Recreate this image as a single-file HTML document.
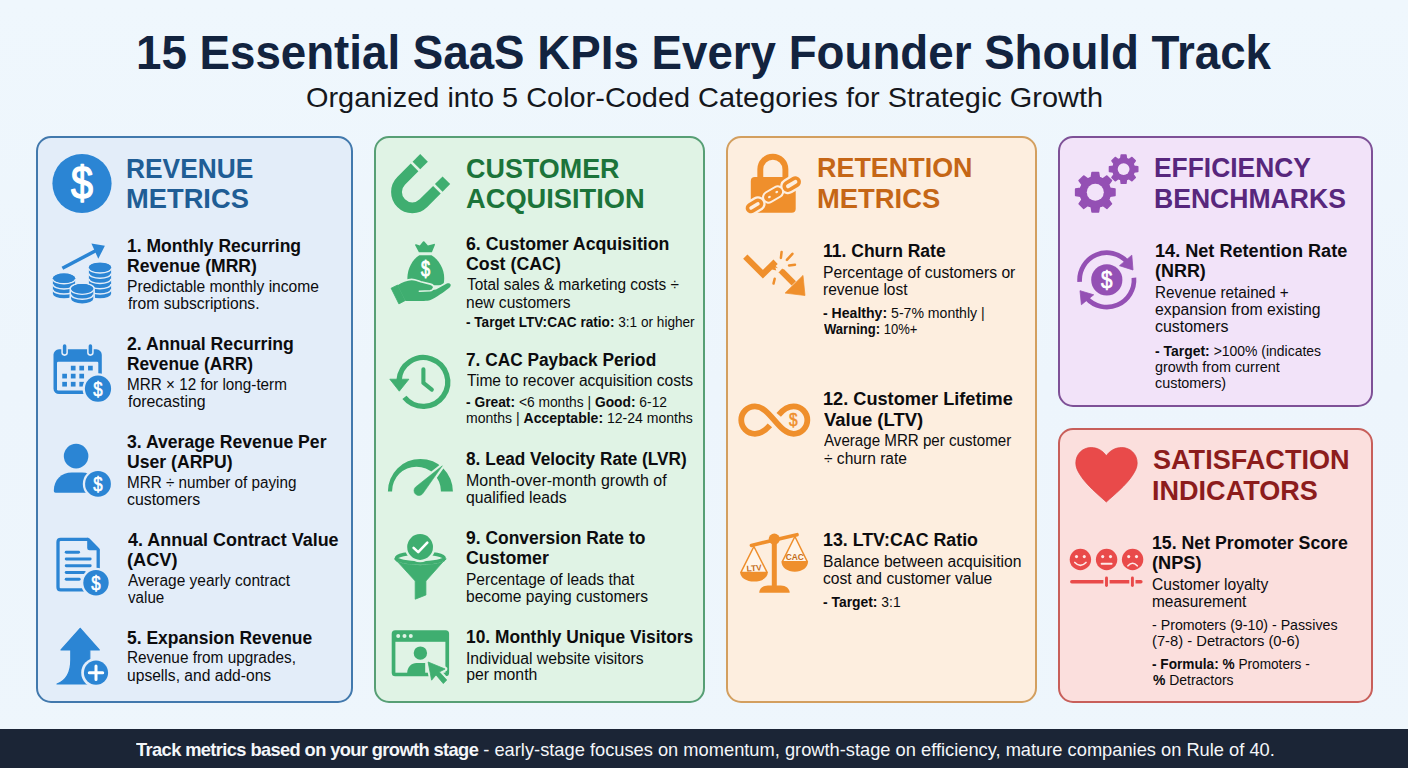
<!DOCTYPE html>
<html lang="en"><head><meta charset="utf-8"><title>15 Essential SaaS KPIs Every Founder Should Track</title>
<style>
html,body{margin:0;padding:0}
body{width:1408px;height:768px;overflow:hidden;background:#eef6fc;font-family:'Liberation Sans',sans-serif}
#page{position:relative;width:1408px;height:768px;overflow:hidden;background:linear-gradient(180deg,#eff7fd 0%,#edf5fc 50%,#eef6fc 100%)}
.t{position:absolute;white-space:nowrap;color:#0c0c0e;display:block;transform-origin:0 0}
.t b{font-weight:700}
.card{position:absolute;box-sizing:border-box;border:2px solid;border-radius:15px}
.c-blue{left:36px;top:136px;width:317px;height:566.5px;background:#e3edf9;border-color:#4279ad}
.c-green{left:374px;top:136px;width:331px;height:566.5px;background:#e0f3e5;border-color:#579f75}
.c-orange{left:725.5px;top:136px;width:311.5px;height:566.5px;background:#fdeedf;border-color:#d39f5f}
.c-purple{left:1058px;top:136px;width:315px;height:271px;background:#f2e3f9;border-color:#7e5197}
.c-red{left:1058px;top:427.5px;width:315px;height:275px;background:#fbdfdd;border-color:#c85f5a}
#foot{position:absolute;left:0;top:729px;width:1408px;height:39px;background:#1b2536}
.ic{position:absolute;overflow:visible}
.title{font-size:48.5px;font-weight:700;line-height:56px;height:56px}
.sub{font-size:28.0px;font-weight:400;line-height:32px;height:32px}
.head{font-size:27.2px;font-weight:700;line-height:32px;height:32px}
.it{font-size:18.9px;font-weight:700;line-height:22px;height:22px}
.desc{font-size:15.8px;font-weight:400;line-height:18px;height:18px}
.note{font-size:14.3px;font-weight:400;line-height:16px;height:16px}
.foot{font-size:18.6px;font-weight:400;line-height:22px;height:22px}
</style></head>
<body>
<div id="page">
<div class="card c-blue"></div>
<div class="card c-green"></div>
<div class="card c-orange"></div>
<div class="card c-purple"></div>
<div class="card c-red"></div>
<div id="foot"></div>

<svg class="ic" style="left:0;top:0" width="1408" height="768" viewBox="0 0 1408 768" font-family="'Liberation Sans', sans-serif">
<g id="ic-blue">
<circle cx="82" cy="183.5" r="29.6" fill="#2b85d4"/><text transform="translate(82,198.71) scale(0.86,1)" x="0" y="0" font-size="46" font-weight="400" text-anchor="middle" fill="#fff" stroke="#fff" stroke-width="1.38" stroke-linejoin="round">$</text>
<path d="M52.9,278.2 L52.9,293.65 A11.1 4.7 0 0 0 75.1,293.65 L75.1,278.2 A11.1 4.7 0 0 0 52.9,278.2 Z" fill="#2b85d4"/><path d="M52.9,279.09999999999997 A11.1 4.7 0 0 0 75.1,279.09999999999997" fill="none" stroke="#e3edf9" stroke-width="1.5"/><path d="M52.9,284.24999999999994 A11.1 4.7 0 0 0 75.1,284.24999999999994" fill="none" stroke="#e3edf9" stroke-width="1.5"/><path d="M52.9,289.4 A11.1 4.7 0 0 0 75.1,289.4" fill="none" stroke="#e3edf9" stroke-width="1.5"/><ellipse cx="64" cy="278.2" rx="11.1" ry="4.7" fill="#2b85d4"/>
<path d="M88.9,267.4 L88.9,293.65 A11.1 4.7 0 0 0 111.1,293.65 L111.1,267.4 A11.1 4.7 0 0 0 88.9,267.4 Z" fill="#2b85d4"/><path d="M88.9,268.29999999999995 A11.1 4.7 0 0 0 111.1,268.29999999999995" fill="none" stroke="#e3edf9" stroke-width="1.5"/><path d="M88.9,273.54999999999995 A11.1 4.7 0 0 0 111.1,273.54999999999995" fill="none" stroke="#e3edf9" stroke-width="1.5"/><path d="M88.9,278.79999999999995 A11.1 4.7 0 0 0 111.1,278.79999999999995" fill="none" stroke="#e3edf9" stroke-width="1.5"/><path d="M88.9,284.04999999999995 A11.1 4.7 0 0 0 111.1,284.04999999999995" fill="none" stroke="#e3edf9" stroke-width="1.5"/><path d="M88.9,289.29999999999995 A11.1 4.7 0 0 0 111.1,289.29999999999995" fill="none" stroke="#e3edf9" stroke-width="1.5"/><ellipse cx="100" cy="267.4" rx="11.1" ry="4.7" fill="#2b85d4"/>
<path d="M71.10000000000001,288.7 L71.10000000000001,298.7 A11.1 4.7 0 0 0 93.3,298.7 L93.3,288.7 A11.1 4.7 0 0 0 71.10000000000001,288.7 Z" fill="#e3edf9" stroke="#e3edf9" stroke-width="3.2"/><path d="M71.10000000000001,288.7 L71.10000000000001,298.7 A11.1 4.7 0 0 0 93.3,298.7 L93.3,288.7 A11.1 4.7 0 0 0 71.10000000000001,288.7 Z" fill="#2b85d4"/><path d="M71.10000000000001,289.59999999999997 A11.1 4.7 0 0 0 93.3,289.59999999999997" fill="none" stroke="#e3edf9" stroke-width="1.5"/><path d="M71.10000000000001,294.59999999999997 A11.1 4.7 0 0 0 93.3,294.59999999999997" fill="none" stroke="#e3edf9" stroke-width="1.5"/><ellipse cx="82.2" cy="288.7" rx="11.1" ry="4.7" fill="#2b85d4"/>
<path d="M62.4,268.3 L97,250" stroke="#2b85d4" stroke-width="3.5" fill="none"/>
<path d="M91.4,243.6 L104.9,245.7 L98.3,258.8 Z" fill="#2b85d4"/>
<rect x="53.5" y="349.3" width="48.3" height="44.7" rx="5.5" fill="#2b85d4"/>
<rect x="57" y="361.8" width="41.3" height="28.7" rx="1.2" fill="#e3edf9"/>
<path d="M64.6,346 L64.6,352.6" stroke="#e3edf9" stroke-width="6.6" stroke-linecap="round"/>
<path d="M64.6,346 L64.6,352.6" stroke="#2b85d4" stroke-width="3.5" stroke-linecap="round"/>
<path d="M90.4,346 L90.4,352.6" stroke="#e3edf9" stroke-width="6.6" stroke-linecap="round"/>
<path d="M90.4,346 L90.4,352.6" stroke="#2b85d4" stroke-width="3.5" stroke-linecap="round"/>
<rect x="70.85" y="365.75" width="4.7" height="4.7" fill="#2b85d4"/>
<rect x="79.35" y="365.75" width="4.7" height="4.7" fill="#2b85d4"/>
<rect x="88.05" y="365.75" width="4.7" height="4.7" fill="#2b85d4"/>
<rect x="62.25" y="373.75" width="4.7" height="4.7" fill="#2b85d4"/>
<rect x="70.85" y="373.75" width="4.7" height="4.7" fill="#2b85d4"/>
<rect x="79.35" y="373.75" width="4.7" height="4.7" fill="#2b85d4"/>
<rect x="62.25" y="381.85" width="4.7" height="4.7" fill="#2b85d4"/>
<rect x="70.85" y="381.85" width="4.7" height="4.7" fill="#2b85d4"/>
<rect x="79.35" y="381.85" width="4.7" height="4.7" fill="#2b85d4"/>
<circle cx="98" cy="388.7" r="15.399999999999999" fill="#e3edf9"/><circle cx="98" cy="388.7" r="13.1" fill="#2b85d4"/><text transform="translate(98,395.74) scale(0.8,1)" x="0" y="0" font-size="21" font-weight="400" text-anchor="middle" fill="#fff" stroke="#fff" stroke-width="0.63" stroke-linejoin="round">$</text>
<circle cx="76.1" cy="456.1" r="12.3" fill="#2b85d4"/>
<path d="M53.8,490.9 C53.8,479.6 61.6,472.5 71.8,472.5 L82,472.5 C92,472.5 98.5,479.5 98.5,490.7 L98.5,492.7 L55.6,492.7 Q53.8,492.7 53.8,490.9 Z" fill="#2b85d4"/>
<circle cx="98" cy="483.9" r="15.2" fill="#e3edf9"/><circle cx="98" cy="483.9" r="12.9" fill="#2b85d4"/><text transform="translate(98,490.94) scale(0.8,1)" x="0" y="0" font-size="21" font-weight="400" text-anchor="middle" fill="#fff" stroke="#fff" stroke-width="0.63" stroke-linejoin="round">$</text>
<path d="M88.3,539.3 L60.6,539.3 Q58,539.3 58,541.9 L58,587.3 Q58,589.9 60.6,589.9 L86,589.9 M98.2,572 L98.2,549.4" stroke="#2b85d4" stroke-width="3.3" fill="none"/>
<path d="M87.2,537.65 Q88.6,537.65 89.6,538.6 L98.9,547.9 Q99.85,548.9 99.85,550.3 L89.5,550.3 Q87.2,550.3 87.2,548 Z" fill="#2b85d4"/>
<path d="M66.2,552.2 L78.6,552.2" stroke="#2b85d4" stroke-width="2.9" stroke-linecap="round"/>
<path d="M66.2,559 L90.2,559" stroke="#2b85d4" stroke-width="2.9" stroke-linecap="round"/>
<path d="M66.2,565.7 L90.2,565.7" stroke="#2b85d4" stroke-width="2.9" stroke-linecap="round"/>
<path d="M66.2,572.5 L84.4,572.5" stroke="#2b85d4" stroke-width="2.9" stroke-linecap="round"/>
<path d="M66.2,579.2 L79.2,579.2" stroke="#2b85d4" stroke-width="2.9" stroke-linecap="round"/>
<circle cx="96" cy="582.8" r="15.0" fill="#e3edf9"/><circle cx="96" cy="582.8" r="12.7" fill="#2b85d4"/><text transform="translate(96,589.83) scale(0.8,1)" x="0" y="0" font-size="21" font-weight="400" text-anchor="middle" fill="#fff" stroke="#fff" stroke-width="0.63" stroke-linejoin="round">$</text>
<path d="M80.2,628.3 L99.3,650 L89.8,650 L89.8,684 L57,684 C66.5,680.5 70.8,672 70.8,660 L70.8,650 L61,650 Z" fill="#2b85d4" stroke="#2b85d4" stroke-width="1.2" stroke-linejoin="round"/>
<circle cx="96" cy="672.7" r="14.8" fill="#e3edf9"/><circle cx="96" cy="672.7" r="12.1" fill="#2b85d4"/>
<path d="M89.3,672.7 L102.7,672.7 M96,666 L96,679.4" stroke="#fff" stroke-width="3" stroke-linecap="round"/>
</g>
<g id="ic-green">
<g transform="translate(412.3,192.0) rotate(45)">
<path d="M-15.8,-18.999999999999996 L-15.8,0 A15.8 15.8 0 0 0 15.8,0 L15.8,-18.999999999999996" fill="none" stroke="#3fae70" stroke-width="10.8"/>
<rect x="-21.200000000000003" y="-32.4" width="10.8" height="10.8" fill="#3fae70"/>
<rect x="10.4" y="-32.4" width="10.8" height="10.8" fill="#3fae70"/>
</g>
<path d="M418.9,252.2 L415.0,244.9 Q415.1,243.9 416.2,244.2 L419.8,245.6 L423.0,241.5 Q423.7,240.9 424.4,241.5 L427.9,245.5 L433.8,243.9 Q435.3,243.7 434.9,245.0 L431.9,252.2 Z" fill="#3fae70"/>
<path d="M419.3,255.2 L431.5,255.2 C438.5,259.5 444.2,268.5 444.2,278 C444.2,281.5 443.8,283.5 443.2,285.2 L407.9,285.2 C407.5,283 407.4,281 407.4,278 C407.4,268.5 412.5,259.5 419.3,255.2 Z" fill="#3fae70"/>
<text transform="translate(425.6,275.90) scale(0.76,1)" x="0" y="0" font-size="21.5" font-weight="400" text-anchor="middle" fill="#fff" stroke="#fff" stroke-width="0.90" stroke-linejoin="round">$</text>
<path d="M397.6,285.3 C402,282.6 407,280.4 411.6,280.3 C415,280.3 417.5,281.6 420.6,282.6 L430.3,284.9 C432.6,285.5 433.4,287.2 432.9,288.6 C432.4,290.1 431,290.6 429.2,290.5 L436,289.5 L446.8,283.6 C448.6,282.7 450.2,283.3 450.6,284.6 C451,285.9 450.3,287 449,288 C444,292 436,297.5 430.5,300 C428.5,300.7 426.5,300.9 424,300.9 L405.6,300.9 Z" fill="#e0f3e5" stroke="#e0f3e5" stroke-width="3.4" stroke-linejoin="round"/>
<path d="M397.6,285.3 C402,282.6 407,280.4 411.6,280.3 C415,280.3 417.5,281.6 420.6,282.6 L430.3,284.9 C432.6,285.5 433.4,287.2 432.9,288.6 C432.4,290.1 431,290.6 429.2,290.5 L436,289.5 L446.8,283.6 C448.6,282.7 450.2,283.3 450.6,284.6 C451,285.9 450.3,287 449,288 C444,292 436,297.5 430.5,300 C428.5,300.7 426.5,300.9 424,300.9 L405.6,300.9 Z" fill="#3fae70"/>
<path d="M391.1,288.2 L397.7,285 L405.4,300.4 L398.9,303.9 Z" fill="#3fae70" stroke="#3fae70" stroke-width="0.8" stroke-linejoin="round"/>
<path d="M419.3,291.2 L430,290.7 C432,290.5 433,289.5 433.2,288.3" fill="none" stroke="#e0f3e5" stroke-width="1.5" stroke-linecap="round"/>
<path d="M404.44,397.36 A24.4 24.4 0 1 0 399.0,380.5" fill="none" stroke="#3fae70" stroke-width="5.3"/>
<path d="M389.8,379.2 L408.9,379.2 L399.3,391.2 Z" fill="#3fae70" stroke="#3fae70" stroke-width="0.8" stroke-linejoin="round"/>
<path d="M423.4,369.2 L423.4,382.9 L431.8,389.6" fill="none" stroke="#3fae70" stroke-width="4.1" stroke-linecap="round" stroke-linejoin="round"/>
<clipPath id="gclip"><rect x="380" y="450" width="90" height="41.4"/></clipPath>
<g clip-path="url(#gclip)"><path fill-rule="evenodd" fill="#3fae70" d="M387.9,491.4 a32.5,32.5 0 1,0 65,0 a32.5,32.5 0 1,0 -65,0 Z M392.1,491.1 a24.4,24.4 0 1,0 48.8,0 a24.4,24.4 0 1,0 -48.8,0 Z"/></g>
<path d="M442.3,465.8 L423.0,493.3 A4.9 4.9 0 1 1 415.6,487.0 Z" fill="#e0f3e5" stroke="#e0f3e5" stroke-width="4.8" stroke-linejoin="round"/>
<path d="M442.3,465.8 L423.0,493.3 A4.9 4.9 0 1 1 415.6,487.0 Z" fill="#3fae70" stroke="#3fae70" stroke-width="0.6" stroke-linejoin="round"/>
<path d="M394.7,558.6 L415.2,581 L415.2,599.2 L425.9,595 L425.9,581 L445.9,558.6 C445.9,562.4 434,565.2 420.3,565.2 C406.6,565.2 394.7,562.4 394.7,558.6 Z" fill="#3fae70" stroke="#3fae70" stroke-width="0.8" stroke-linejoin="round"/>
<ellipse cx="420.3" cy="558.0" rx="23.8" ry="5.0" fill="#e0f3e5" stroke="#3fae70" stroke-width="3.6"/>
<circle cx="420.1" cy="547" r="15.2" fill="#e0f3e5"/>
<path d="M394.9,558.6 C394.9,562.3 406.6,564.5 420.3,564.5 C434,564.5 445.7,562.3 445.7,558.6" fill="none" stroke="#3fae70" stroke-width="0.1"/>
<circle cx="420.1" cy="547" r="12.9" fill="#3fae70"/>
<path d="M413.6,547.9 L418.2,552.1 L427.3,542.6" fill="none" stroke="#fff" stroke-width="2.6" stroke-linecap="round" stroke-linejoin="round"/>
<rect x="391.7" y="630.2" width="57.4" height="46" rx="3.5" fill="#3fae70"/>
<rect x="395.4" y="641.8" width="50" height="30.9" fill="#e0f3e5"/>
<circle cx="398.2" cy="636.1" r="2" fill="#e0f3e5"/>
<circle cx="404.5" cy="636.1" r="2" fill="#e0f3e5"/>
<circle cx="410.8" cy="636.1" r="2" fill="#e0f3e5"/>
<circle cx="420.4" cy="653.1" r="6.7" fill="#3fae70"/>
<path d="M407.2,673 C407.2,667 411.5,663 416.5,663 L425.2,663 L425.2,673 Z" fill="#3fae70"/>
<path d="M428.1,662 L445.1,669 L439.3,671.9 L446.7,680 L443.3,683.6 L436,674.9 L431.6,680.2 Z" fill="#e0f3e5" stroke="#e0f3e5" stroke-width="4.6" stroke-linejoin="round"/>
<path d="M428.1,662 L445.1,669 L439.3,671.9 L446.7,680 L443.3,683.6 L436,674.9 L431.6,680.2 Z" fill="#3fae70" stroke="#3fae70" stroke-width="0.8" stroke-linejoin="round"/>
</g>
<g id="ic-orange">
<path d="M760.3,178 L760.3,169.3 A12.55 12.55 0 0 1 785.4,169.3 L785.4,178" fill="none" stroke="#ef8f2c" stroke-width="5.9"/>
<rect x="750.8" y="176.9" width="44.9" height="35.8" rx="4" fill="#ef8f2c"/>
<rect x="-7.6" y="-3.5" width="15.2" height="7.0" rx="3.5" fill="#fdeedf" stroke="#fdeedf" stroke-width="8.2" transform="translate(754.5,205.9) rotate(-31)"/>
<rect x="-7.75" y="-2.3" width="15.5" height="4.6" rx="2.3" fill="#fdeedf" stroke="#fdeedf" stroke-width="8.2" transform="translate(773.1,194.5) rotate(-31)"/>
<rect x="-8.1" y="-3.8" width="16.2" height="7.6" rx="3.8" fill="#fdeedf" stroke="#fdeedf" stroke-width="8.2" transform="translate(791.7,184.1) rotate(-31)"/>
<rect x="-9.8" y="-4.5" width="19.6" height="9" rx="4.5" fill="#ef8f2c" transform="translate(773.1,194.5) rotate(-31)"/>
<g transform="translate(773.1,194.5) rotate(-31)"><ellipse cx="-4.4" cy="0.2" rx="1.5" ry="1.1" fill="#fdeedf"/><ellipse cx="4.4" cy="-0.2" rx="1.5" ry="1.1" fill="#fdeedf"/></g>
<rect x="-7.6" y="-3.5" width="15.2" height="7.0" rx="3.5" fill="none" stroke="#ef8f2c" stroke-width="3.6" transform="translate(754.5,205.9) rotate(-31)"/>
<rect x="-8.1" y="-3.8" width="16.2" height="7.6" rx="3.8" fill="none" stroke="#ef8f2c" stroke-width="3.6" transform="translate(791.7,184.1) rotate(-31)"/>
<path d="M745.3,256.7 L762.9,274.1 L775.6,261.7" fill="none" stroke="#ef8f2c" stroke-width="6.1"/>
<path d="M773.6,263.7 L777.9,268.2 L775.3,267.6 L776.3,270.5 L772,269.6 Z" fill="#ef8f2c"/>
<path d="M781.6,271.2 L793.8,283.4" fill="none" stroke="#ef8f2c" stroke-width="6.1"/>
<path d="M778.3,272.7 L782.3,268.6 L785.2,271.5 L781.8,273.2 Z" fill="#ef8f2c"/>
<path d="M803,275.4 L805,295.5 L785.1,293.1 Z" fill="#ef8f2c" stroke="#ef8f2c" stroke-width="0.7" stroke-linejoin="round"/>
<path d="M781.6,251.9 L780.9,257.9" stroke="#ef8f2c" stroke-width="2.5" stroke-linecap="round"/>
<path d="M792.4,253.8 L786.9,259.9" stroke="#ef8f2c" stroke-width="2.5" stroke-linecap="round"/>
<path d="M795,264.7 L789,265.4" stroke="#ef8f2c" stroke-width="2.5" stroke-linecap="round"/>
<path d="M774.7,278.7 L773.5,283.6" stroke="#ef8f2c" stroke-width="2.5" stroke-linecap="round"/>
<path d="M778.70,414.80 C782.90,409.90 787.50,406.40 793.65,406.40 A13.7 13.7 0 1 1 793.65,433.80 C786.30,433.80 780.80,427.70 774.30,420.10 C767.80,412.50 762.30,406.40 754.95,406.40 A13.7 13.7 0 1 0 754.95,433.80 C761.10,433.80 765.70,430.30 769.90,425.40" fill="none" stroke="#ef8f2c" stroke-width="5.8"/>
<text transform="translate(793.3,426.23) scale(0.86,1)" x="0" y="0" font-size="18" font-weight="400" text-anchor="middle" fill="#ef8f2c" stroke="#ef8f2c" stroke-width="0.54" stroke-linejoin="round">$</text>
<path d="M774.3,540 L774.3,587" stroke="#ef8f2c" stroke-width="5" fill="none"/>
<path d="M759.2,592.8 C759.2,588.5 763,585.4 768,585.4 L780.8,585.4 C785.8,585.4 789.7,588.5 789.7,592.8 Z" fill="#ef8f2c"/>
<path d="M751.4,545.4 L797,534.7" stroke="#ef8f2c" stroke-width="3.6" stroke-linecap="round" fill="none"/>
<circle cx="774.3" cy="539.1" r="5.6" fill="#ef8f2c"/>
<path d="M740.9,572.4 L753.9,546.5 L767.1,572.4 Z" fill="#fff5e9" stroke="#ef8f2c" stroke-width="1.5" stroke-linejoin="round"/>
<path d="M740.2,572.3 L767.8,572.3 C767.8,578 761.5,581.6 754,581.6 C746.5,581.6 740.2,578 740.2,572.3 Z" fill="#ef8f2c"/>
<text x="754.1" y="571" font-size="8.4" font-weight="700" text-anchor="middle" fill="#c46c18" transform="rotate(-4 754 568)">LTV</text>
<path d="M782.2,561.8 L794.9,536.5 L807.4,561.8 Z" fill="#fff5e9" stroke="#ef8f2c" stroke-width="1.5" stroke-linejoin="round"/>
<path d="M781.5,561.7 L808,561.7 C808,567.5 802,571.7 794.8,571.7 C787.5,571.7 781.5,567.5 781.5,561.7 Z" fill="#ef8f2c"/>
<text x="794.8" y="560.4" font-size="8.4" font-weight="700" text-anchor="middle" fill="#c46c18">CAC</text>
</g>
<g id="ic-purple">
<path d="M1091.21,177.46 L1092.00,172.47 L1098.60,172.47 L1099.39,177.46 L1102.83,178.88 L1106.91,175.92 L1111.58,180.59 L1108.62,184.67 L1110.04,188.11 L1115.03,188.90 L1115.03,195.50 L1110.04,196.29 L1108.62,199.73 L1111.58,203.81 L1106.91,208.48 L1102.83,205.52 L1099.39,206.94 L1098.60,211.93 L1092.00,211.93 L1091.21,206.94 L1087.77,205.52 L1083.69,208.48 L1079.02,203.81 L1081.98,199.73 L1080.56,196.29 L1075.57,195.50 L1075.57,188.90 L1080.56,188.11 L1081.98,184.67 L1079.02,180.59 L1083.69,175.92 L1087.77,178.88 Z" fill="#9450b4" stroke="#9450b4" stroke-width="1.4" stroke-linejoin="round"/><circle cx="1095.3" cy="192.2" r="15.6" fill="#9450b4"/><circle cx="1095.3" cy="192.2" r="8.5" fill="#f2e3f9"/>
<path d="M1120.69,158.60 L1121.22,154.90 L1125.98,154.90 L1126.51,158.60 L1128.97,159.61 L1131.96,157.38 L1135.32,160.74 L1133.09,163.73 L1134.10,166.19 L1137.80,166.72 L1137.80,171.48 L1134.10,172.01 L1133.09,174.47 L1135.32,177.46 L1131.96,180.82 L1128.97,178.59 L1126.51,179.60 L1125.98,183.30 L1121.22,183.30 L1120.69,179.60 L1118.23,178.59 L1115.24,180.82 L1111.88,177.46 L1114.11,174.47 L1113.10,172.01 L1109.40,171.48 L1109.40,166.72 L1113.10,166.19 L1114.11,163.73 L1111.88,160.74 L1115.24,157.38 L1118.23,159.61 Z" fill="#9450b4" stroke="#9450b4" stroke-width="1.4" stroke-linejoin="round"/><circle cx="1123.6" cy="169.1" r="11.2" fill="#9450b4"/><circle cx="1123.6" cy="169.1" r="5.9" fill="#f2e3f9"/>
<path d="M1079.67,281.80 A27.2 27.2 0 0 1 1127.01,261.70" fill="none" stroke="#9450b4" stroke-width="4.7"/>
<path d="M1131.8,255.2 L1133,270 L1119.5,265.7 Z" fill="#9450b4" stroke="#9450b4" stroke-width="0.8" stroke-linejoin="round"/>
<path d="M1133.92,277.77 A27.2 27.2 0 0 1 1086.59,298.10" fill="none" stroke="#9450b4" stroke-width="4.7"/>
<path d="M1080,290.7 L1093.7,294.8 L1081.4,304.7 Z" fill="#9450b4" stroke="#9450b4" stroke-width="0.8" stroke-linejoin="round"/>
<circle cx="1106.8" cy="279.9" r="15.6" fill="#9450b4"/><text transform="translate(1106.8,288.14) scale(0.86,1)" x="0" y="0" font-size="24" font-weight="400" text-anchor="middle" fill="#fff" stroke="#fff" stroke-width="0.72" stroke-linejoin="round">$</text>
</g>
<g id="ic-red">
<path d="M1106.3,502 C1098,494.5 1086.5,485 1080.5,475.5 C1077.5,471 1075.8,467 1075.8,463.2 C1075.8,454 1082.6,447.5 1091.2,447.5 C1097.3,447.5 1102.8,450.6 1106.3,455.8 C1109.8,450.6 1115.5,447.5 1121.7,447.5 C1130.3,447.5 1137.2,454 1137.2,463.2 C1137.2,467 1135.4,471 1132.4,475.5 C1126.3,485 1114.6,494.5 1106.3,502 Z" fill="#e94a4a" stroke="#d9413f" stroke-width="0.7"/>
<circle cx="1080.4" cy="559.5" r="10.7" fill="#e94a4a"/>
<circle cx="1076.5" cy="556.6" r="1.55" fill="#fde9e8"/><circle cx="1084.3000000000002" cy="556.6" r="1.55" fill="#fde9e8"/>
<path d="M1074.8000000000002,562.5 Q1080.4,568.1 1086.0,562.5" fill="none" stroke="#fde9e8" stroke-width="1.7" stroke-linecap="round"/>
<circle cx="1106.6" cy="559.5" r="10.7" fill="#e94a4a"/>
<circle cx="1102.6999999999998" cy="556.6" r="1.55" fill="#fde9e8"/><circle cx="1110.5" cy="556.6" r="1.55" fill="#fde9e8"/>
<path d="M1101.6,563.7 L1111.6,563.7" fill="none" stroke="#fde9e8" stroke-width="1.9" stroke-linecap="round"/>
<circle cx="1132.6" cy="559.5" r="10.7" fill="#e94a4a"/>
<circle cx="1128.6999999999998" cy="556.6" r="1.55" fill="#fde9e8"/><circle cx="1136.5" cy="556.6" r="1.55" fill="#fde9e8"/>
<path d="M1128.0,565.8 Q1132.6,560.7 1137.1999999999998,565.8" fill="none" stroke="#fde9e8" stroke-width="1.7" stroke-linecap="round"/>
<path d="M1071.8,581.8 L1140.9,581.8" stroke="#e94a4a" stroke-width="3.4" stroke-linecap="round"/>
<path d="M1106.5,578 L1106.5,585.6" stroke="#fbdfdd" stroke-width="6.2" stroke-linecap="round"/>
<path d="M1106.5,578 L1106.5,585.6" stroke="#e94a4a" stroke-width="2.9" stroke-linecap="round"/>
<path d="M1132.4,578 L1132.4,585.6" stroke="#fbdfdd" stroke-width="6.2" stroke-linecap="round"/>
<path d="M1132.4,578 L1132.4,585.6" stroke="#e94a4a" stroke-width="2.9" stroke-linecap="round"/>
</g>
</svg>

<span class="t title" style="left:135.9px;top:24px;color:#12233f;transform:scaleX(0.9420)">15 Essential SaaS KPIs Every Founder Should Track</span>
<span class="t sub" style="left:306.0px;top:82px;color:#15171c;transform:scaleX(1.0325)">Organized into 5 Color-Coded Categories for Strategic Growth</span>
<span class="t head" style="left:125.6px;top:153px;color:#205d95;transform:scaleX(0.9688)">REVENUE</span>
<span class="t head" style="left:125.5px;top:183px;color:#205d95;transform:scaleX(1.0042)">METRICS</span>
<span class="t it" style="left:126.6px;top:235px;transform:scaleX(0.9263)">1. Monthly Recurring</span>
<span class="t it" style="left:126.6px;top:255px;transform:scaleX(0.9304)">Revenue (MRR)</span>
<span class="t desc" style="left:126.5px;top:278px;transform:scaleX(0.9896)">Predictable monthly income</span>
<span class="t desc" style="left:127.5px;top:295px;transform:scaleX(0.9924)">from subscriptions.</span>
<span class="t it" style="left:126.6px;top:333px;transform:scaleX(0.9333)">2. Annual Recurring</span>
<span class="t it" style="left:126.6px;top:353px;transform:scaleX(0.9162)">Revenue (ARR)</span>
<span class="t desc" style="left:126.5px;top:376px;transform:scaleX(0.9663)">MRR × 12 for long-term</span>
<span class="t desc" style="left:127.5px;top:393px;transform:scaleX(1.0039)">forecasting</span>
<span class="t it" style="left:126.6px;top:431px;transform:scaleX(0.9329)">3. Average Revenue Per</span>
<span class="t it" style="left:126.6px;top:451px;transform:scaleX(0.9324)">User (ARPU)</span>
<span class="t desc" style="left:126.5px;top:474px;transform:scaleX(0.9655)">MRR ÷ number of paying</span>
<span class="t desc" style="left:126.5px;top:491px;transform:scaleX(1.0042)">customers</span>
<span class="t it" style="left:127.5px;top:529px;transform:scaleX(0.9493)">4. Annual Contract Value</span>
<span class="t it" style="left:126.5px;top:549px;transform:scaleX(0.9627)">(ACV)</span>
<span class="t desc" style="left:127.5px;top:572px;transform:scaleX(0.9783)">Average yearly contract</span>
<span class="t desc" style="left:127.5px;top:589px;transform:scaleX(0.9595)">value</span>
<span class="t it" style="left:126.6px;top:627px;transform:scaleX(0.9236)">5. Expansion Revenue</span>
<span class="t desc" style="left:126.5px;top:649px;transform:scaleX(0.9715)">Revenue from upgrades,</span>
<span class="t desc" style="left:126.5px;top:667px;transform:scaleX(0.9889)">upsells, and add-ons</span>
<span class="t head" style="left:466.2px;top:153px;color:#1c743a;transform:scaleX(0.9902)">CUSTOMER</span>
<span class="t head" style="left:466.2px;top:183px;color:#1c743a;transform:scaleX(1.0029)">ACQUISITION</span>
<span class="t it" style="left:466.3px;top:233px;transform:scaleX(0.9393)">6. Customer Acquisition</span>
<span class="t it" style="left:466.3px;top:253px;transform:scaleX(0.9414)">Cost (CAC)</span>
<span class="t desc" style="left:467.2px;top:276px;transform:scaleX(0.9742)">Total sales &amp; marketing costs ÷</span>
<span class="t desc" style="left:466.2px;top:294px;transform:scaleX(0.9848)">new customers</span>
<span class="t note" style="left:466.2px;top:314px;transform:scaleX(0.9519)"><b>- Target LTV:CAC ratio:</b> 3:1 or higher</span>
<span class="t it" style="left:466.3px;top:349px;transform:scaleX(0.9150)">7. CAC Payback Period</span>
<span class="t desc" style="left:467.2px;top:372px;transform:scaleX(0.9856)">Time to recover acquisition costs</span>
<span class="t note" style="left:466.2px;top:394px;transform:scaleX(0.9647)"><b>- Great:</b> &lt;6 months | <b>Good:</b> 6-12</span>
<span class="t note" style="left:466.2px;top:410px;transform:scaleX(0.9821)">months | <b>Acceptable:</b> 12-24 months</span>
<span class="t it" style="left:466.3px;top:448px;transform:scaleX(0.9113)">8. Lead Velocity Rate (LVR)</span>
<span class="t desc" style="left:466.2px;top:472px;transform:scaleX(1.0111)">Month-over-month growth of</span>
<span class="t desc" style="left:466.2px;top:489px;transform:scaleX(0.9970)">qualified leads</span>
<span class="t it" style="left:466.3px;top:527px;transform:scaleX(0.9238)">9. Conversion Rate to</span>
<span class="t it" style="left:466.3px;top:547px;transform:scaleX(0.9402)">Customer</span>
<span class="t desc" style="left:466.2px;top:571px;transform:scaleX(0.9829)">Percentage of leads that</span>
<span class="t desc" style="left:466.2px;top:588px;transform:scaleX(0.9874)">become paying customers</span>
<span class="t it" style="left:466.3px;top:626px;transform:scaleX(0.9187)">10. Monthly Unique Visitors</span>
<span class="t desc" style="left:466.2px;top:650px;transform:scaleX(0.9960)">Individual website visitors</span>
<span class="t desc" style="left:466.2px;top:666px;transform:scaleX(1.0000)">per month</span>
<span class="t head" style="left:817.2px;top:152px;color:#c56616;transform:scaleX(0.9902)">RETENTION</span>
<span class="t head" style="left:817.2px;top:183px;color:#c56616;transform:scaleX(1.0067)">METRICS</span>
<span class="t it" style="left:822.8px;top:240px;transform:scaleX(0.9275)">11. Churn Rate</span>
<span class="t desc" style="left:822.7px;top:264px;transform:scaleX(0.9912)">Percentage of customers or</span>
<span class="t desc" style="left:822.7px;top:281px;transform:scaleX(0.9824)">revenue lost</span>
<span class="t note" style="left:822.7px;top:305px;transform:scaleX(0.9846)"><b>- Healthy:</b> 5-7% monthly |</span>
<span class="t note" style="left:823.7px;top:321px;transform:scaleX(0.9127)"><b>Warning:</b> 10%+</span>
<span class="t it" style="left:822.7px;top:388px;transform:scaleX(0.9617)">12. Customer Lifetime</span>
<span class="t it" style="left:823.7px;top:409px;transform:scaleX(0.9772)">Value (LTV)</span>
<span class="t desc" style="left:823.7px;top:432px;transform:scaleX(0.9579)">Average MRR per customer</span>
<span class="t desc" style="left:823.7px;top:450px;transform:scaleX(0.9857)">÷ churn rate</span>
<span class="t it" style="left:822.8px;top:529px;transform:scaleX(0.9423)">13. LTV:CAC Ratio</span>
<span class="t desc" style="left:822.7px;top:553px;transform:scaleX(0.9909)">Balance between acquisition</span>
<span class="t desc" style="left:822.7px;top:570px;transform:scaleX(0.9888)">cost and customer value</span>
<span class="t note" style="left:822.7px;top:594px;transform:scaleX(0.9705)"><b>- Target:</b> 3:1</span>
<span class="t head" style="left:1154.3px;top:152px;color:#58277d;transform:scaleX(0.9711)">EFFICIENCY</span>
<span class="t head" style="left:1154.2px;top:183px;color:#58277d;transform:scaleX(0.9772)">BENCHMARKS</span>
<span class="t it" style="left:1155.2px;top:240px;transform:scaleX(0.9588)">14. Net Retention Rate</span>
<span class="t it" style="left:1155.2px;top:260px;transform:scaleX(0.9500)">(NRR)</span>
<span class="t desc" style="left:1155.2px;top:284px;transform:scaleX(0.9672)">Revenue retained +</span>
<span class="t desc" style="left:1155.2px;top:301px;transform:scaleX(0.9970)">expansion from existing</span>
<span class="t desc" style="left:1155.2px;top:318px;transform:scaleX(1.0085)">customers</span>
<span class="t note" style="left:1155.2px;top:343px;transform:scaleX(0.9757)"><b>- Target:</b> &gt;100% (indicates</span>
<span class="t note" style="left:1155.2px;top:359px;transform:scaleX(1.0057)">growth from current</span>
<span class="t note" style="left:1155.2px;top:375px;transform:scaleX(1.0058)">customers)</span>
<span class="t head" style="left:1152.5px;top:444px;color:#8c1c1c;transform:scaleX(0.9959)">SATISFACTION</span>
<span class="t head" style="left:1151.5px;top:475px;color:#8c1c1c;transform:scaleX(0.9951)">INDICATORS</span>
<span class="t it" style="left:1152.1px;top:532px;transform:scaleX(0.9372)">15. Net Promoter Score</span>
<span class="t it" style="left:1152.0px;top:552px;transform:scaleX(0.9640)">(NPS)</span>
<span class="t desc" style="left:1152.0px;top:576px;transform:scaleX(0.9880)">Customer loyalty</span>
<span class="t desc" style="left:1152.0px;top:593px;transform:scaleX(0.9771)">measurement</span>
<span class="t note" style="left:1152.0px;top:617px;transform:scaleX(0.9935)">- Promoters (9-10) - Passives</span>
<span class="t note" style="left:1152.0px;top:633px;transform:scaleX(1.0319)">(7-8) - Detractors (0-6)</span>
<span class="t note" style="left:1152.0px;top:656px;transform:scaleX(0.9543)"><b>- Formula: %</b> Promoters -</span>
<span class="t note" style="left:1153.0px;top:672px;transform:scaleX(0.9744)"><b>%</b> Detractors</span>
<span class="t foot" style="left:135.6px;top:739px;color:#f4f6f9;transform:scaleX(0.9827)"><b style="letter-spacing:-0.62px">Track metrics based on your growth stage</b> - early-stage focuses on momentum, growth-stage on efficiency, mature companies on Rule of 40.</span>
</div>
</body></html>
